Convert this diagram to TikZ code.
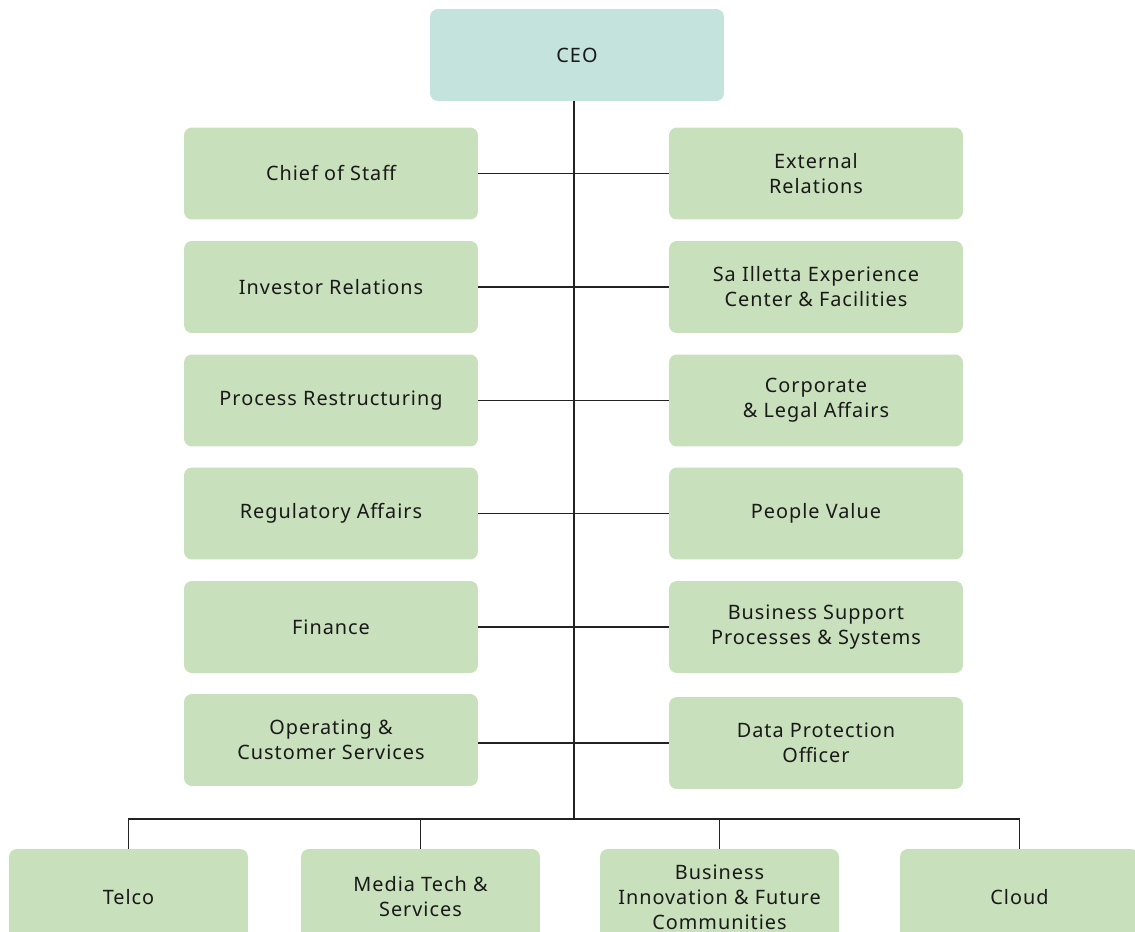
\documentclass[tikz,border=0pt]{standalone}
\usepackage{fontspec}
\setmainfont{Noto Sans}[LetterSpace=5]
\definecolor{ceofill}{HTML}{C4E3DD}
\definecolor{unitfill}{HTML}{C8E0BB}
\definecolor{linkcol}{HTML}{222222}
\begin{document}
\begin{tikzpicture}[x=0.02cm,y=-0.02cm,
	box/.style={fill=unitfill,rounded corners=4.5pt,minimum width=5.88cm,minimum height=1.84cm,align=center,inner sep=0pt,font=\fontsize{11.3}{14.2}\selectfont,text=black!90},
	bottombox/.style={box,minimum width=4.78cm,minimum height=1.92cm},
	link/.style={linkcol,line width=0.6pt}]
		\useasboundingbox (0,0) rectangle (1135,932);
		\clip (0,0) rectangle (1135,932);
		%top
		\node[box,fill=ceofill] (ceo) at (577,55) {CEO};
		%staff units, left
		\node[box] (l1) at (331,173.5) {Chief of Staff};
		\node[box] (l2) at (331,287) {Investor Relations};
		\node[box] (l3) at (331,400.5) {Process Restructuring};
		\node[box] (l4) at (331,513.5) {Regulatory Affairs};
		\node[box] (l5) at (331,627) {Finance};
		\node[box] (l6) at (331,740) {Operating \&\\Customer Services};
		%staff units, right
		\node[box] (r1) at (816,173.5) {External\\Relations};
		\node[box] (r2) at (816,287) {Sa Illetta Experience\\Center \& Facilities};
		\node[box] (r3) at (816,400.5) {Corporate\\\& Legal Affairs};
		\node[box] (r4) at (816,513.5) {People Value};
		\node[box] (r5) at (816,627) {Business Support\\Processes \& Systems};
		\node[box] (r6) at (816,743) {Data Protection\\Officer};
		%business units
		\node[bottombox] (telco) at (128.5,897) {Telco};
		\node[bottombox] (media) at (420.5,897) {Media Tech \&\\Services};
		\node[bottombox] (bifc) at (719.5,897) {Business\\Innovation \& Future\\Communities};
		\node[bottombox] (cloud) at (1019.5,897) {Cloud};
		\coordinate (bus) at (574,819);
		%connectors
		\draw[link] (ceo.south -| bus) -- (bus);
		\foreach \i in {1,...,5}
		\draw[link] (l\i.east) -- (r\i.west);
		\draw[link] (l6.east |- r6.west) -- (r6.west);
		\draw[link] (telco.north) |- (bus) -| (cloud.north);
		\draw[link] (media.north) -- (media.north |- bus);
		\draw[link] (bifc.north) -- (bifc.north |- bus);
\end{tikzpicture}
\end{document}
